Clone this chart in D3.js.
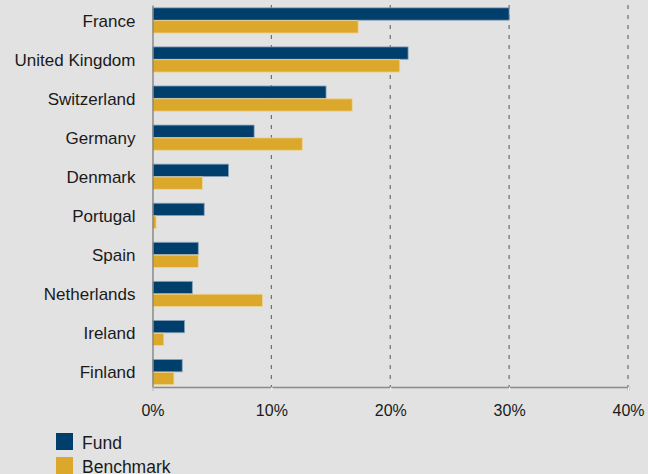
<!DOCTYPE html>
<html>
<head>
<meta charset="utf-8">
<script src="https://cdn.jsdelivr.net/npm/d3@7"></script>
<style>
  html, body { margin: 0; padding: 0; background: #e2e2e2; }
  svg { display: block; }
</style>
</head>
<body>
<div id="chart"></div>
<script>
// data
var countries = ["France", "United Kingdom", "Switzerland", "Germany", "Denmark",
  "Portugal", "Spain", "Netherlands", "Ireland", "Finland"];
var fundValues = [30.0, 21.5, 14.6, 8.55, 6.4, 4.35, 3.85, 3.35, 2.7, 2.5];
var benchmarkValues = [17.3, 20.8, 16.8, 12.6, 4.2, 0.3, 3.85, 9.25, 0.95, 1.8];
var seriesNames = ["Fund", "Benchmark"];
var xTicks = [0, 10, 20, 30, 40];

var FUND_COLOR = "#003f6c",
  BENCH_COLOR = "#dba82c",
  FONT = "'Liberation Sans', Arial, Helvetica, sans-serif";

var width = 648, height = 474;
var margin = {top: 5, left: 152.5, right: 20, bottom: 87};

var svg = d3.select("#chart")
  .append("svg")
  .attr("width", width)
  .attr("height", height)
  .style("font-family", FONT);

svg.append("rect")
  .attr("width", width)
  .attr("height", height)
  .attr("fill", "#e2e2e2");

var x = d3.scaleLinear()
  .domain([0, 40])
  .range([margin.left, 628]);

var y0 = d3.scaleBand()
  .domain(countries)
  .range([margin.top, height - margin.bottom])
  .paddingInner(0.343)
  .paddingOuter(0.06);

var y1 = d3.scaleBand()
  .domain(seriesNames)
  .range([0, y0.bandwidth()]);

var rows = countries.map((c, i) => ({country: c, values: [fundValues[i], benchmarkValues[i]]}));

// dashed grid lines
svg.append("g")
  .selectAll("line")
  .data(xTicks.slice(1))
  .enter()
  .append("line")
  .attr("x1", d => x(d))
  .attr("x2", d => x(d))
  .attr("y1", margin.top)
  .attr("y2", height - margin.bottom)
  .attr("stroke", "#6e6e6e")
  .attr("stroke-width", 1.2)
  .attr("stroke-dasharray", "4,6");

// bars
var groups = svg.append("g")
  .selectAll("g")
  .data(rows)
  .enter()
  .append("g")
  .attr("transform", d => "translate(0," + y0(d.country) + ")");

groups.selectAll("rect")
  .data(d => d.values.map((v, i) => ({series: seriesNames[i], value: v})))
  .enter()
  .append("rect")
  .attr("x", x(0))
  .attr("y", d => y1(d.series) + 0.5)
  .attr("width", d => x(d.value) - x(0))
  .attr("height", y1.bandwidth() - 0.5)
  .attr("fill", d => d.series == "Fund" ? FUND_COLOR : BENCH_COLOR)
  .attr("stroke", d => d.series == "Fund" ? "#8aa2ba" : "#eed596")
  .attr("stroke-width", 0.8);

// x axis
var xAxis = svg.append("g")
  .attr("transform", "translate(0," + (height - margin.bottom) + ")")
  .call(d3.axisBottom(x)
    .tickValues(xTicks)
    .tickFormat(d => d + "%")
    .tickSize(4)
    .tickPadding(14));
xAxis.select(".domain").attr("stroke", "#8a8a8a").attr("stroke-width", 1.5);
xAxis.selectAll(".tick line").attr("stroke", "#f4f4f4");
xAxis.selectAll("text")
  .style("font-family", FONT)
  .style("font-size", "16px")
  .attr("fill", "#1a1a1a");

// y axis
var yAxis = svg.append("g")
  .attr("transform", "translate(" + margin.left + ",0)")
  .call(d3.axisLeft(y0)
    .tickSize(0)
    .tickPadding(17));
yAxis.select(".domain").attr("stroke", "#8a8a8a").attr("stroke-width", 1.5);
yAxis.selectAll("text")
  .attr("dy", "0.38em")
  .style("font-family", FONT)
  .style("font-size", "17px")
  .attr("fill", "#1a1a1a");

// legend
var legend = svg.append("g")
  .selectAll("g")
  .data(seriesNames)
  .enter()
  .append("g")
  .attr("transform", (d, i) => "translate(56," + (433 + i * 24) + ")");

legend.append("rect")
  .attr("width", 17)
  .attr("height", 17)
  .attr("fill", d => d == "Fund" ? FUND_COLOR : BENCH_COLOR);

legend.append("text")
  .attr("x", 26)
  .attr("y", 15.5)
  .text(d => d)
  .style("font-size", "17.5px")
  .attr("fill", "#1a1a1a");
</script>
</body>
</html>
